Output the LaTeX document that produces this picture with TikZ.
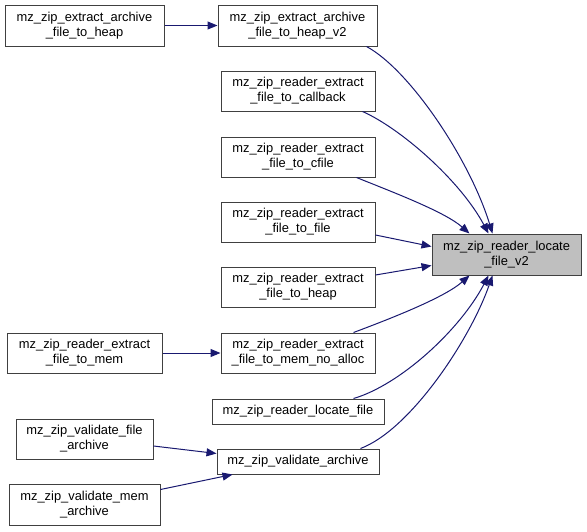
\documentclass[tikz,border=0pt]{standalone}
\usepackage{fontspec}
\setmainfont{Liberation Sans}
\usetikzlibrary{arrows.meta,calc}
\definecolor{edgeblue}{HTML}{191970}
\definecolor{boxline}{HTML}{404040}
\definecolor{targetfill}{HTML}{BFBFBF}
\tikzset{
  fbox/.style={draw=boxline, line width=1pt, fill=white, inner sep=0pt, align=center,
    font=\fontsize{12.9}{15}\selectfont, text=black},
  tbox/.style={fbox, fill=targetfill},
  edge/.style={draw=edgeblue, line width=1pt, -{Triangle[length=10pt,width=8pt]}}
}
\begin{document}
\begin{tikzpicture}[x=1pt,y=-1pt]
\useasboundingbox (0,0) rectangle (587,531);
\node[fbox, minimum width=159pt, minimum height=41pt] (A) at (84.5,25.5) {mz\_zip\_extract\_archive\\\_file\_to\_heap};
\node[fbox, minimum width=159pt, minimum height=41pt] (B) at (297.5,25.5) {mz\_zip\_extract\_archive\\\_file\_to\_heap\_v2};
\node[fbox, minimum width=154pt, minimum height=40pt] (C) at (298,91) {mz\_zip\_reader\_extract\\\_file\_to\_callback};
\node[fbox, minimum width=154pt, minimum height=40pt] (D) at (298,157) {mz\_zip\_reader\_extract\\\_file\_to\_cfile};
\node[fbox, minimum width=154pt, minimum height=40pt] (E) at (298,222) {mz\_zip\_reader\_extract\\\_file\_to\_file};
\node[fbox, minimum width=154pt, minimum height=40pt] (F) at (298,287) {mz\_zip\_reader\_extract\\\_file\_to\_heap};
\node[fbox, minimum width=154pt, minimum height=40pt] (G) at (298,353) {mz\_zip\_reader\_extract\\\_file\_to\_mem\_no\_alloc};
\node[fbox, minimum width=172pt, minimum height=25pt] (H) at (298,411.5) {mz\_zip\_reader\_locate\_file};
\node[fbox, minimum width=162pt, minimum height=25pt] (I) at (298,461.5) {mz\_zip\_validate\_archive};
\node[tbox, minimum width=149pt, minimum height=41pt] (T) at (506.5,254.5) {mz\_zip\_reader\_locate\\\_file\_v2};
\node[fbox, minimum width=155pt, minimum height=40pt] (J) at (84.5,353) {mz\_zip\_reader\_extract\\\_file\_to\_mem};
\node[fbox, minimum width=137pt, minimum height=40pt] (K) at (84.5,439) {mz\_zip\_validate\_file\\\_archive};
\node[fbox, minimum width=151pt, minimum height=41pt] (L) at (84.5,504.5) {mz\_zip\_validate\_mem\\\_archive};

\draw[edge] (A.east) -- (B.west);
\draw[edge] (J.east) -- (G.west);
\draw[edge] ($(K.east)+(0,7)$) -- ($(I.west)+(0,-8)$);
\draw[edge] ($(L.east)+(0,-15)$) -- ($(I.south west)+(16,0)$);

\draw[edge] ($(B.south east)+(-11,0)$) .. controls (410,70) and (470,160) .. ($(T.north west)+(61,0)$);
\draw[edge] ($(C.south east)+(-13,0)$) .. controls (400,128) and (460,180) .. ($(T.north west)+(57,0)$);
\draw[edge] ($(D.south east)+(-19,0)$) .. controls (395,193) and (445,212) .. ($(T.north west)+(38,0)$);
\draw[edge] ($(E.east)+(0,13)$) -- ($(T.west)+(0,-8)$);
\draw[edge] ($(F.east)+(0,-12)$) -- ($(T.west)+(0,11)$);
\draw[edge] ($(G.north east)+(-22,0)$) .. controls (395,317) and (445,297) .. ($(T.south west)+(38,0)$);
\draw[edge] ($(H.north east)+(-31,0)$) .. controls (400,385) and (460,330) .. ($(T.south west)+(57,0)$);
\draw[edge] ($(I.north east)+(-19,0)$) .. controls (410,430) and (470,340) .. ($(T.south west)+(61,0)$);
\end{tikzpicture}
\end{document}
